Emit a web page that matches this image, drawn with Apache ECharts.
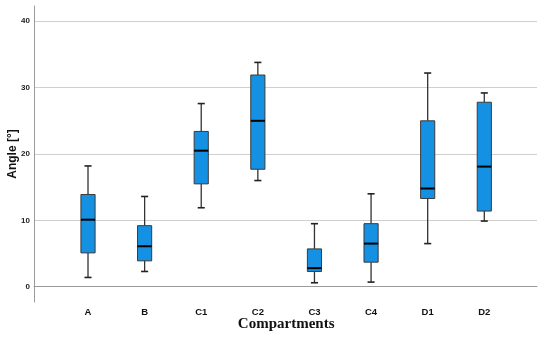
<!DOCTYPE html>
<html>
<head>
<meta charset="utf-8">
<script src="https://cdn.jsdelivr.net/npm/echarts@6/dist/echarts.min.js"></script>
<style>html,body{margin:0;padding:0;background:#fff}#c{width:550px;height:344px}</style>
</head>
<body>
<div id="c"></div>
<script>
var categories = ['A', 'B', 'C1', 'C2', 'C3', 'C4', 'D1', 'D2'];
var whiskerLow = [1.4, 2.3, 11.9, 16.0, 0.6, 0.7, 6.5, 9.9];
var q1 = [5.1, 3.9, 15.5, 17.7, 2.3, 3.7, 13.3, 11.4];
var median = [10.1, 6.1, 20.5, 25.0, 2.8, 6.5, 14.8, 18.1];
var q3 = [13.9, 9.2, 23.4, 31.9, 5.7, 9.5, 25.0, 27.8];
var whiskerHigh = [18.2, 13.6, 27.6, 33.8, 9.5, 14.0, 32.2, 29.2];

var data = categories.map(function (c, i) {
  return [i, whiskerLow[i], q1[i], median[i], q3[i], whiskerHigh[i]];
});

var chart = echarts.init(document.getElementById('c'), null, {renderer: 'canvas'});
var font = 'Liberation Sans';
var yMin = -2.3, yMax = 42.3;

function renderItem(params, api) {
  var x = api.value(0);
  var band = api.size([1, 0])[0];
  var bw = band * 0.25;
  var cw = bw * 0.5;
  var pLo = api.coord([x, api.value(1)]);
  var pQ1 = api.coord([x, api.value(2)]);
  var pMed = api.coord([x, api.value(3)]);
  var pQ3 = api.coord([x, api.value(4)]);
  var pHi = api.coord([x, api.value(5)]);
  var cx = pMed[0];
  var wStyle = {stroke: '#333', lineWidth: 1.3};
  return {
    type: 'group',
    children: [
      {type: 'line', shape: {x1: cx, y1: pHi[1], x2: cx, y2: pQ3[1]}, style: wStyle},
      {type: 'line', shape: {x1: cx, y1: pQ1[1], x2: cx, y2: pLo[1]}, style: wStyle},
      {type: 'line', shape: {x1: cx - cw / 2, y1: pHi[1], x2: cx + cw / 2, y2: pHi[1]}, style: {stroke: '#222', lineWidth: 1.6}},
      {type: 'line', shape: {x1: cx - cw / 2, y1: pLo[1], x2: cx + cw / 2, y2: pLo[1]}, style: {stroke: '#222', lineWidth: 1.6}},
      {type: 'rect', shape: {x: cx - bw / 2, y: pQ3[1], width: bw, height: pQ1[1] - pQ3[1]},
        style: {fill: '#1591e4', stroke: '#3a3a3a', lineWidth: 1}},
      {type: 'line', shape: {x1: cx - bw / 2, y1: pMed[1], x2: cx + bw / 2, y2: pMed[1]}, style: {stroke: '#000', lineWidth: 2}}
    ]
  };
}

chart.setOption({
  animation: false,
  backgroundColor: '#fff',
  grid: [
    {left: 34, right: 13, top: 6, bottom: 42, containLabel: false, outerBoundsMode: 'none'},
    {left: 59.7, right: 37.4, top: 6, bottom: 42, containLabel: false, outerBoundsMode: 'none'}
  ],
  xAxis: [
    {
      gridIndex: 0, type: 'value', min: 0, max: 1,
      axisLine: {show: true, lineStyle: {color: '#9a9a9a', width: 1}},
      axisTick: {show: false}, axisLabel: {show: false}, splitLine: {show: false}
    },
    {
      gridIndex: 1, type: 'category', data: categories,
      axisLine: {show: false}, axisTick: {show: false},
      axisLabel: {color: '#111', fontFamily: font, fontWeight: 'bold', fontSize: 9.5, margin: 5},
      name: 'Compartments', nameLocation: 'middle', nameGap: 15, nameMoveOverlap: false,
      nameTextStyle: {fontFamily: 'Liberation Serif', fontWeight: 'bold', fontSize: 15, color: '#111'}
    }
  ],
  yAxis: [
    {
      gridIndex: 0, type: 'value', min: yMin, max: yMax,
      axisLine: {show: true, lineStyle: {color: '#9a9a9a', width: 1}},
      axisTick: {show: false},
      axisLabel: {color: '#222', fontFamily: font, fontWeight: 'bold', fontSize: 8, margin: 4,
        showMinLabel: false, showMaxLabel: false},
      splitLine: {show: true, showMinLine: false, showMaxLine: false, lineStyle: {color: '#cfcfcf', width: 1}},
      name: 'Angle [°]', nameLocation: 'middle', nameGap: 15, nameRotate: 90, nameMoveOverlap: false,
      nameTextStyle: {fontFamily: font, fontWeight: 'bold', fontSize: 12, color: '#111'}
    },
    {
      gridIndex: 1, type: 'value', min: yMin, max: yMax, show: false,
      splitLine: {show: false}
    }
  ],
  series: [{
    type: 'custom',
    xAxisIndex: 1, yAxisIndex: 1,
    renderItem: renderItem,
    encode: {x: 0, y: [1, 2, 3, 4, 5]},
    data: data
  }]
});
</script>
</body>
</html>
